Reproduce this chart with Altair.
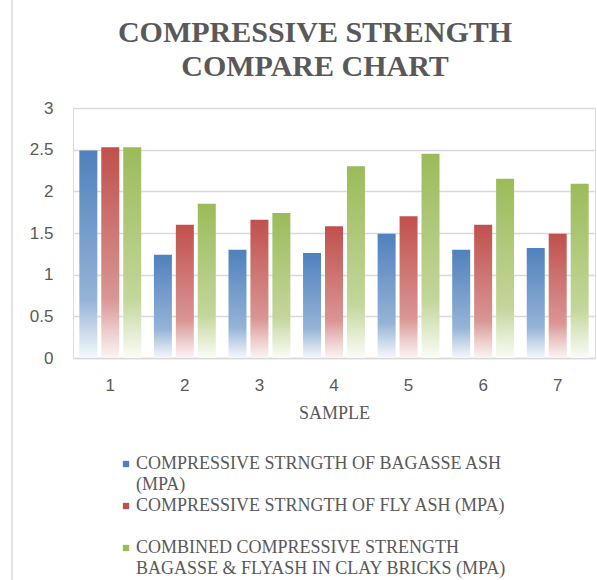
import altair as alt
import pandas as pd

# Sample numbers on the x axis
samples = ["1", "2", "3", "4", "5", "6", "7"]

# Series names (legend order); legend text wraps onto the following rows
series_names = [
    "COMPRESSIVE STRNGTH OF BAGASSE ASH",
    "COMPRESSIVE STRNGTH OF FLY ASH (MPA)",
    "COMBINED COMPRESSIVE STRENGTH",
]
legend_rows = [
    "COMPRESSIVE STRNGTH OF BAGASSE ASH",
    "(MPA)",
    "COMPRESSIVE STRNGTH OF FLY ASH (MPA)",
    " ",
    "COMBINED COMPRESSIVE STRENGTH",
    "BAGASSE & FLYASH IN CLAY BRICKS (MPA)",
]

# Compressive strength values (MPa) per sample
bagasse_ash = [2.49, 1.24, 1.30, 1.26, 1.49, 1.30, 1.32]
fly_ash = [2.53, 1.60, 1.66, 1.58, 1.70, 1.60, 1.49]
combined = [2.53, 1.85, 1.74, 2.30, 2.45, 2.15, 2.09]

base_colors = ["#4F81BD", "#C0504D", "#9BBB59"]
# continuation rows of the legend carry no visible marker
legend_colors = ["#4F81BD", "#FFFFFF", "#C0504D", "#FFFFFF", "#9BBB59", "#FFFFFF"]
# vertical fade of each bar: solid at the top, near white at the bottom
fades = [
    ["#4F81BD", "#95B3D7", "#CAD9EB", "#F5F8FC"],
    ["#C0504D", "#D99694", "#ECCBCA", "#FCF4F4"],
    ["#9BBB59", "#C3D69B", "#E1EBCD", "#FAFCF6"],
]
stop_offsets = [0, 0.72, 0.87, 1]

rows = []
for name, vals in zip(series_names, [bagasse_ash, fly_ash, combined]):
    for s, v in zip(samples, vals):
        rows.append({"sample": s, "series": name, "value": v})
df = pd.DataFrame(rows)

grey = "#595959"
grid = "#D9D9D9"

x_enc = alt.X(
    "sample:N",
    sort=samples,
    scale=alt.Scale(paddingInner=0.17, paddingOuter=0.085),
    axis=alt.Axis(
        title="SAMPLE",
        labelAngle=0,
        labelFont="Liberation Sans",
        labelFontSize=17,
        labelColor=grey,
        labelPadding=19,
        ticks=False,
        domain=True,
        domainColor=grid,
        domainWidth=1.3,
        titleFont="Liberation Serif",
        titleFontSize=18,
        titleFontWeight="normal",
        titleColor=grey,
        titlePadding=11,
    ),
)
y_enc = alt.Y(
    "value:Q",
    scale=alt.Scale(domain=[0, 3]),
    axis=alt.Axis(
        title=None,
        values=[0, 0.5, 1, 1.5, 2, 2.5, 3],
        format="~g",
        labelFont="Liberation Sans",
        labelFontSize=17,
        labelColor=grey,
        labelPadding=20,
        ticks=False,
        domain=False,
        grid=True,
        gridColor=grid,
        gridWidth=1.3,
    ),
)
xoff_enc = alt.XOffset(
    "series:N",
    sort=series_names,
    scale=alt.Scale(domain=series_names, paddingInner=0.18, paddingOuter=0),
)

base = alt.Chart(df)

# Invisible bars that carry the colour legend
legend_layer = base.mark_bar(opacity=0).encode(
    x=x_enc,
    y=y_enc,
    xOffset=xoff_enc,
    color=alt.Color(
        "series:N",
        scale=alt.Scale(domain=legend_rows, range=legend_colors),
        legend=alt.Legend(
            title=None,
            orient="none",
            legendX=44,
            legendY=347,
            direction="vertical",
            symbolType="square",
            symbolSize=40,
            symbolOpacity=1,
            symbolStrokeWidth=0,
            labelFont="Liberation Serif",
            labelFontSize=18,
            labelColor=grey,
            labelLimit=0,
            labelOffset=1,
            labelBaseline="middle",
            rowPadding=3,
            padding=0,
        ),
    ),
)

bar_layers = []
for name, fade in zip(series_names, fades):
    grad = alt.Gradient(
        gradient="linear",
        x1=0, x2=0, y1=0, y2=1,
        stops=[alt.GradientStop(offset=o, color=c) for o, c in zip(stop_offsets, fade)],
    )
    bar_layers.append(
        base.transform_filter(alt.datum.series == name)
        .mark_bar(fill=grad)
        .encode(x=x_enc, y=y_enc, xOffset=xoff_enc)
    )

# thin chart border on the left edge
border = alt.Chart(pd.DataFrame({"k": [0]})).mark_rule(
    color=grid, strokeWidth=1.5
).encode(x=alt.value(-61), y=alt.value(-108), y2=alt.value(472))

chart = alt.layer(legend_layer, *bar_layers, border).properties(
    width=522,
    height=250,
    padding={"left": 73, "top": 108, "right": 2, "bottom": 222},
    autosize=alt.AutoSizeParams(type="none"),
    title=alt.TitleParams(
        text=["COMPRESSIVE STRENGTH", "COMPARE CHART"],
        font="Liberation Serif",
        fontSize=30,
        fontWeight="bold",
        color=grey,
        lineHeight=34,
        anchor="middle",
        dx=-19,
        offset=-83,
    ),
).configure_view(stroke=None).configure(background="white")

chart.save("out.html", embed_options={"renderer": "svg", "actions": False})
